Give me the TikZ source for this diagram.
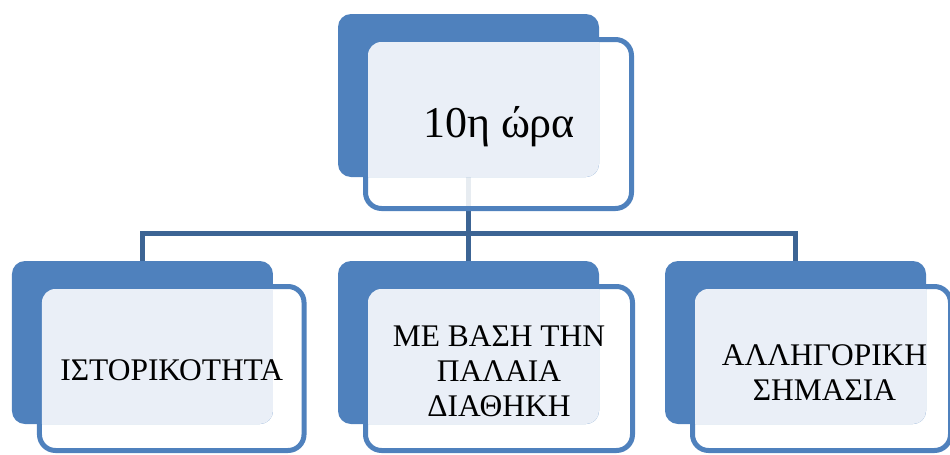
\documentclass[tikz,border=0pt]{standalone}
\usepackage{fontspec}
\setmainfont{Liberation Serif}
\usetikzlibrary{backgrounds}
\definecolor{boxblue}{HTML}{4F81BD}
\definecolor{boxlight}{HTML}{EAEFF7}
\definecolor{linkblue}{HTML}{3C6494}

\begin{document}
\begin{tikzpicture}[x=0.75pt, y=-0.75pt,
    frontbox/.style={draw=boxblue, line width=3.75pt, fill=white, fill opacity=0.88,
        rounded corners=12pt, inner sep=0pt, outer sep=0pt},
    backbox/.style={fill=boxblue, rounded corners=9.75pt, minimum width=195.75pt,
        minimum height=122.25pt, inner sep=0pt, outer sep=0pt, anchor=north west},
    link/.style={draw=linkblue, line width=3.75pt},
    txt/.style={align=center, inner sep=0pt, font=\fontsize{23.6}{26.25}\selectfont}]
    \useasboundingbox (0,0) rectangle (950,454);
    % front frames
    \node[frontbox, minimum width=199.5pt, minimum height=126.75pt] (top) at (498.5,124) {};
    \node[frontbox, minimum width=198.4pt, minimum height=123pt] (hist) at (171.75,368.5) {};
    \node[frontbox, minimum width=200.25pt, minimum height=123pt] (pal) at (499,368.5) {};
    \node[frontbox, minimum width=193.5pt, minimum height=123pt] (alle) at (821.5,368.5) {};
    % back panels
    \foreach \b in {top,hist,pal,alle}
        \node[backbox] (\b b) at ([shift={(-27.5,-25.5)}]\b.north west) {};
    % light part where both overlap
    \foreach \b in {top,hist,pal,alle} {
        \begin{scope}
            \clip[rounded corners=9.75pt] (\b b.north west) rectangle (\b b.south east);
            \fill[boxlight, rounded corners=10pt] ([shift={(2.5,2.5)}]\b.north west)
                rectangle ([shift={(-2.5,-2.5)}]\b.south east);
        \end{scope}
    }
    % connectors
    \coordinate (bar) at (0,233.5);
    \begin{scope}[on background layer]
        \draw[link] (topb.center) -- (topb.center |- bar);
        \draw[link] (histb.north) -- (histb.north |- bar) -- (alleb.north |- bar) -- (alleb.north);
        \draw[link] (palb.north) -- (palb.north |- bar);
    \end{scope}
    % texts
    \node[txt, anchor=base, font=\fontsize{33}{38}\selectfont] (toptxt) at (499,137) {10η ώρα};
    \node[txt] (histtxt) at ([shift={(0,2)}]hist) {ΙΣΤΟΡΙΚΟΤΗΤΑ};
    \node[txt] (paltxt) at ([shift={(0,2.5)}]pal) {ΜΕ ΒΑΣΗ ΤΗΝ\\ΠΑΛΑΙΑ\\ΔΙΑΘΗΚΗ};
    \node[txt] (alletxt) at ([shift={(3,4.5)}]alle) {ΑΛΛΗΓΟΡΙΚΗ\\ΣΗΜΑΣΙΑ};
\end{tikzpicture}
\end{document}
